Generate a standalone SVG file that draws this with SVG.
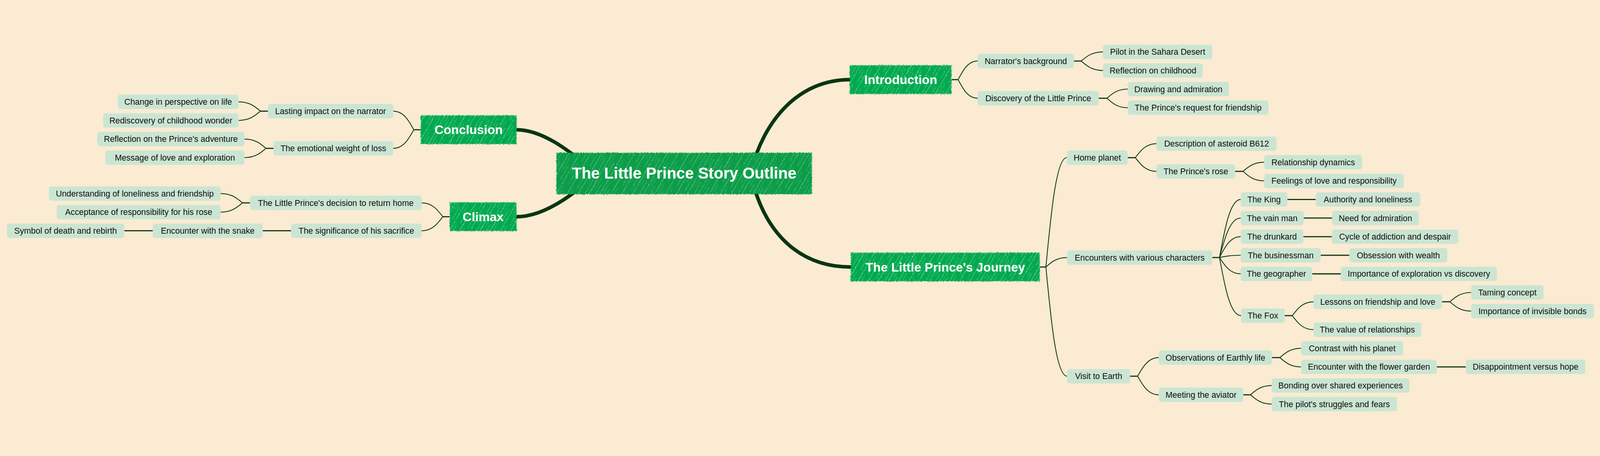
<svg xmlns="http://www.w3.org/2000/svg" width="4903" height="1167" viewBox="0 0 4903 1167" style="width:100%;height:100%;background:#faebd2">
<style>
.leaf rect{fill:#cbe5d3;}
.leaf text{font-family:"Liberation Sans",Arial,sans-serif;font-size:25.6px;fill:#111;text-anchor:middle;}
.main text{font-family:"Liberation Sans",Arial,sans-serif;font-weight:bold;font-size:38.4px;fill:#fff;text-anchor:middle;}
.root text{font-family:"Liberation Sans",Arial,sans-serif;font-weight:bold;font-size:48px;fill:#fff;text-anchor:middle;}
.main rect{fill:url(#hatchMain);filter:url(#rough);}
.root rect{fill:url(#hatchRoot);filter:url(#rough);}
#links path{fill:none;stroke:#173a18;stroke-width:2.6;}
#links path.stub{stroke-width:3.6;}
#links path.thick{stroke:#0b3512;stroke-width:11;stroke-linecap:round;}
</style>
<defs>
<pattern id="hatchMain" patternUnits="userSpaceOnUse" width="27" height="70" patternTransform="rotate(30)">
<rect width="27" height="70" fill="#04a94f"/>
<line x1="4" y1="0" x2="4" y2="70" stroke="#a8e8bf" stroke-width="1.3" opacity="0.75"/>
<line x1="13" y1="5" x2="13" y2="40" stroke="#62d08f" stroke-width="1.6" opacity="0.6"/>
<line x1="21" y1="25" x2="21" y2="68" stroke="#d2f3de" stroke-width="1" opacity="0.6"/>
</pattern>
<pattern id="hatchRoot" patternUnits="userSpaceOnUse" width="29" height="80" patternTransform="rotate(30)">
<rect width="29" height="80" fill="#089d4a"/>
<line x1="5" y1="0" x2="5" y2="80" stroke="#9fe0b6" stroke-width="1.3" opacity="0.7"/>
<line x1="14" y1="8" x2="14" y2="50" stroke="#4fc27d" stroke-width="1.6" opacity="0.6"/>
<line x1="23" y1="30" x2="23" y2="78" stroke="#d6f4e0" stroke-width="1" opacity="0.55"/>
</pattern>
<filter id="rough" x="-3%" y="-10%" width="106%" height="120%">
<feTurbulence type="fractalNoise" baseFrequency="0.35" numOctaves="2" seed="4" result="n"/>
<feDisplacementMap in="SourceGraphic" in2="n" scale="8" xChannelSelector="R" yChannelSelector="G"/>
</filter>
</defs>
<rect width="4903" height="1167" fill="#faebd2"/>
<g id="links">
<path class="thick" d="M2604,129 C2450,129 2340,250 2300,416"/>
<path class="thick" d="M2607,703 C2450,703 2340,600 2300,416"/>
<path class="thick" d="M1583,282.5 C1680,282.5 1780,380 1830,416"/>
<path class="thick" d="M1583,549 C1680,549 1780,460 1830,416"/>
<path class="stub" d="M2916,129 L2936,129"/>
<path d="M2936,129 C2951,100.5 2966,72 2996,72"/>
<path d="M2936,129 C2951,157.5 2966,186 2996,186"/>
<path class="stub" d="M3291,72 L3313,72"/>
<path d="M3313,72 C3329.75,58 3346.5,44 3380,44"/>
<path d="M3313,72 C3329.75,86.5 3346.5,101 3380,101"/>
<path class="stub" d="M3367,186 L3392,186"/>
<path d="M3392,186 C3408,172 3424,158 3456,158"/>
<path d="M3392,186 C3408,200.5 3424,215 3456,215"/>
<path class="stub" d="M3186,703 L3205,703"/>
<path d="M3205,703 C3221,535.5 3237,368 3269,368"/>
<path d="M3205,703 C3221,688.5 3237,674 3270,674"/>
<path d="M3205,703 C3221,870 3237,1037.5 3270,1037.5"/>
<path class="stub" d="M3456,368 L3479,368"/>
<path d="M3479,368 C3495.25,346.5 3511.5,325 3544,325"/>
<path d="M3479,368 C3495.25,389 3511.5,410 3544,410"/>
<path class="stub" d="M3785,410 L3809,410"/>
<path d="M3809,410 C3825.25,396 3841.5,382 3874,382"/>
<path d="M3809,410 C3825.25,424.5 3841.5,439 3874,439"/>
<path class="stub" d="M3715,674 L3737,674"/>
<path d="M3737,674 C3753.25,585 3769.5,496 3802,496"/>
<path d="M3737,674 C3753.25,613.5 3769.5,553 3802,553"/>
<path d="M3737,674 C3753.25,642 3769.5,610 3802,610"/>
<path d="M3737,674 C3753.25,670.5 3769.5,667 3802,667"/>
<path d="M3737,674 C3753.25,699 3769.5,724 3802,724"/>
<path d="M3737,674 C3753.25,763 3769.5,852 3803,852"/>
<path class="stub" d="M3945,496 L4032,496"/>
<path class="stub" d="M3995,553 L4082,553"/>
<path class="stub" d="M3994,610 L4081,610"/>
<path class="stub" d="M4047,667 L4135,667"/>
<path class="stub" d="M4021,724 L4109,724"/>
<path class="stub" d="M3937,852 L3960,852"/>
<path d="M3960,852 C3976.25,830.75 3992.5,809.5 4025,809.5"/>
<path d="M3960,852 C3976.25,873.5 3992.5,895 4025,895"/>
<path class="stub" d="M4419,809.5 L4443,809.5"/>
<path d="M4443,809.5 C4459.25,795.25 4475.5,781 4508,781"/>
<path d="M4443,809.5 C4459.25,823.75 4475.5,838 4508,838"/>
<path class="stub" d="M3463,1037.5 L3486,1037.5"/>
<path d="M3486,1037.5 C3502.25,1009 3518.5,980.5 3551,980.5"/>
<path d="M3486,1037.5 C3502.25,1066 3518.5,1094.5 3551,1094.5"/>
<path class="stub" d="M3898,980.5 L3922,980.5"/>
<path d="M3922,980.5 C3938.25,966.25 3954.5,952 3987,952"/>
<path d="M3922,980.5 C3938.25,994.75 3954.5,1009 3987,1009"/>
<path class="stub" d="M4403,1009 L4492,1009"/>
<path class="stub" d="M3810,1094.5 L3832,1094.5"/>
<path d="M3832,1094.5 C3848.25,1080.25 3864.5,1066 3897,1066"/>
<path d="M3832,1094.5 C3848.25,1108.75 3864.5,1123 3897,1123"/>
<path class="stub" d="M1289,282.5 L1268,282.5"/>
<path d="M1268,282.5 C1252.25,254 1236.5,225.5 1205,225.5"/>
<path d="M1268,282.5 C1252.25,311 1236.5,339.5 1205,339.5"/>
<path class="stub" d="M821,225.5 L798,225.5"/>
<path d="M798,225.5 C781.25,211.25 764.5,197 731,197"/>
<path d="M798,225.5 C781.25,239.75 764.5,254 731,254"/>
<path class="stub" d="M838,339.5 L815,339.5"/>
<path d="M815,339.5 C798.5,325.25 782,311 749,311"/>
<path d="M815,339.5 C798.5,353.75 782,368 749,368"/>
<path class="stub" d="M1378,549 L1357,549"/>
<path d="M1357,549 C1340.75,527.75 1324.5,506.5 1292,506.5"/>
<path d="M1357,549 C1340.75,570.5 1324.5,592 1292,592"/>
<path class="stub" d="M766,506.5 L743,506.5"/>
<path d="M743,506.5 C726.25,492.25 709.5,478 676,478"/>
<path d="M743,506.5 C726.25,520.75 709.5,535 676,535"/>
<path class="stub" d="M892,592 L805,592"/>
<path class="stub" d="M468,592 L381,592"/>
</g>
<g id="n-root" class="root"><rect x="1705" y="353" width="783" height="127"/><text x="2096.5" y="432">The Little Prince Story Outline</text></g>
<g id="n-intro" class="main"><rect x="2604" y="85" width="312" height="88"/><text x="2760" y="142.5">Introduction</text></g>
<g id="n-journey" class="main"><rect x="2607" y="659" width="579" height="88"/><text x="2896.5" y="716.5">The Little Prince's Journey</text></g>
<g id="n-conclusion" class="main"><rect x="1289" y="238.5" width="294" height="88"/><text x="1436" y="296">Conclusion</text></g>
<g id="n-climax" class="main"><rect x="1378" y="505" width="205" height="88"/><text x="1480.5" y="562.5">Climax</text></g>
<g id="n-narrator" class="leaf"><rect x="2996" y="50" width="295" height="44" rx="8"/><text x="3143.5" y="81">Narrator's background</text></g>
<g id="n-pilot" class="leaf"><rect x="3380" y="22" width="335" height="44" rx="8"/><text x="3547.5" y="53">Pilot in the Sahara Desert</text></g>
<g id="n-childhood" class="leaf"><rect x="3380" y="79" width="306" height="44" rx="8"/><text x="3533" y="110">Reflection on childhood</text></g>
<g id="n-discovery" class="leaf"><rect x="2996" y="164" width="371" height="44" rx="8"/><text x="3181.5" y="195">Discovery of the Little Prince</text></g>
<g id="n-drawing" class="leaf"><rect x="3456" y="136" width="310" height="44" rx="8"/><text x="3611" y="167">Drawing and admiration</text></g>
<g id="n-request" class="leaf"><rect x="3456" y="193" width="431" height="44" rx="8"/><text x="3671.5" y="224">The Prince's request for friendship</text></g>
<g id="n-home" class="leaf"><rect x="3269" y="346" width="187" height="44" rx="8"/><text x="3362.5" y="377">Home planet</text></g>
<g id="n-asteroid" class="leaf"><rect x="3544" y="303" width="368" height="44" rx="8"/><text x="3728" y="334">Description of asteroid B612</text></g>
<g id="n-rose" class="leaf"><rect x="3544" y="388" width="241" height="44" rx="8"/><text x="3664.5" y="419">The Prince's rose</text></g>
<g id="n-relationship" class="leaf"><rect x="3874" y="360" width="300" height="44" rx="8"/><text x="4024" y="391">Relationship dynamics</text></g>
<g id="n-feelings" class="leaf"><rect x="3874" y="417" width="428" height="44" rx="8"/><text x="4088" y="448">Feelings of love and responsibility</text></g>
<g id="n-encounters" class="leaf"><rect x="3270" y="652" width="445" height="44" rx="8"/><text x="3492.5" y="683">Encounters with various characters</text></g>
<g id="n-king" class="leaf"><rect x="3802" y="474" width="143" height="44" rx="8"/><text x="3873.5" y="505">The King</text></g>
<g id="n-authority" class="leaf"><rect x="4032" y="474" width="320" height="44" rx="8"/><text x="4192" y="505">Authority and loneliness</text></g>
<g id="n-vain" class="leaf"><rect x="3802" y="531" width="193" height="44" rx="8"/><text x="3898.5" y="562">The vain man</text></g>
<g id="n-admiration" class="leaf"><rect x="4082" y="531" width="266" height="44" rx="8"/><text x="4215" y="562">Need for admiration</text></g>
<g id="n-drunkard" class="leaf"><rect x="3802" y="588" width="192" height="44" rx="8"/><text x="3898" y="619">The drunkard</text></g>
<g id="n-cycle" class="leaf"><rect x="4081" y="588" width="388" height="44" rx="8"/><text x="4275" y="619">Cycle of addiction and despair</text></g>
<g id="n-business" class="leaf"><rect x="3802" y="645" width="245" height="44" rx="8"/><text x="3924.5" y="676">The businessman</text></g>
<g id="n-wealth" class="leaf"><rect x="4135" y="645" width="300" height="44" rx="8"/><text x="4285" y="676">Obsession with wealth</text></g>
<g id="n-geographer" class="leaf"><rect x="3802" y="702" width="219" height="44" rx="8"/><text x="3911.5" y="733">The geographer</text></g>
<g id="n-exploration" class="leaf"><rect x="4109" y="702" width="478" height="44" rx="8"/><text x="4348" y="733">Importance of exploration vs discovery</text></g>
<g id="n-fox" class="leaf"><rect x="3803" y="830" width="134" height="44" rx="8"/><text x="3870" y="861">The Fox</text></g>
<g id="n-lessons" class="leaf"><rect x="4025" y="787.5" width="394" height="44" rx="8"/><text x="4222" y="818.5">Lessons on friendship and love</text></g>
<g id="n-value" class="leaf"><rect x="4025" y="873" width="330" height="44" rx="8"/><text x="4190" y="904">The value of relationships</text></g>
<g id="n-taming" class="leaf"><rect x="4508" y="759" width="222" height="44" rx="8"/><text x="4619" y="790">Taming concept</text></g>
<g id="n-invisible" class="leaf"><rect x="4508" y="816" width="376" height="44" rx="8"/><text x="4696" y="847">Importance of invisible bonds</text></g>
<g id="n-visit" class="leaf"><rect x="3270" y="1015.5" width="193" height="44" rx="8"/><text x="3366.5" y="1046.5">Visit to Earth</text></g>
<g id="n-observations" class="leaf"><rect x="3551" y="958.5" width="347" height="44" rx="8"/><text x="3724.5" y="989.5">Observations of Earthly life</text></g>
<g id="n-aviator" class="leaf"><rect x="3551" y="1072.5" width="259" height="44" rx="8"/><text x="3680.5" y="1103.5">Meeting the aviator</text></g>
<g id="n-contrast" class="leaf"><rect x="3987" y="930" width="313" height="44" rx="8"/><text x="4143.5" y="961">Contrast with his planet</text></g>
<g id="n-garden" class="leaf"><rect x="3987" y="987" width="416" height="44" rx="8"/><text x="4195" y="1018">Encounter with the flower garden</text></g>
<g id="n-disappointment" class="leaf"><rect x="4492" y="987" width="366" height="44" rx="8"/><text x="4675" y="1018">Disappointment versus hope</text></g>
<g id="n-bonding" class="leaf"><rect x="3897" y="1044" width="422" height="44" rx="8"/><text x="4108" y="1075">Bonding over shared experiences</text></g>
<g id="n-fears" class="leaf"><rect x="3897" y="1101" width="384" height="44" rx="8"/><text x="4089" y="1132">The pilot's struggles and fears</text></g>
<g id="n-lasting" class="leaf"><rect x="821" y="203.5" width="384" height="44" rx="8"/><text x="1013" y="234.5">Lasting impact on the narrator</text></g>
<g id="n-emotional" class="leaf"><rect x="838" y="317.5" width="367" height="44" rx="8"/><text x="1021.5" y="348.5">The emotional weight of loss</text></g>
<g id="n-perspective" class="leaf"><rect x="361" y="175" width="370" height="44" rx="8"/><text x="546" y="206">Change in perspective on life</text></g>
<g id="n-wonder" class="leaf"><rect x="316" y="232" width="415" height="44" rx="8"/><text x="523.5" y="263">Rediscovery of childhood wonder</text></g>
<g id="n-adventure" class="leaf"><rect x="298" y="289" width="451" height="44" rx="8"/><text x="523.5" y="320">Reflection on the Prince's adventure</text></g>
<g id="n-message" class="leaf"><rect x="323" y="346" width="426" height="44" rx="8"/><text x="536" y="377">Message of love and exploration</text></g>
<g id="n-decision" class="leaf"><rect x="766" y="484.5" width="526" height="44" rx="8"/><text x="1029" y="515.5">The Little Prince's decision to return home</text></g>
<g id="n-sacrifice" class="leaf"><rect x="892" y="570" width="400" height="44" rx="8"/><text x="1092" y="601">The significance of his sacrifice</text></g>
<g id="n-loneliness" class="leaf"><rect x="150" y="456" width="526" height="44" rx="8"/><text x="413" y="487">Understanding of loneliness and friendship</text></g>
<g id="n-responsibility" class="leaf"><rect x="174" y="513" width="502" height="44" rx="8"/><text x="425" y="544">Acceptance of responsibility for his rose</text></g>
<g id="n-snake" class="leaf"><rect x="468" y="570" width="337" height="44" rx="8"/><text x="636.5" y="601">Encounter with the snake</text></g>
<g id="n-symbol" class="leaf"><rect x="21" y="570" width="360" height="44" rx="8"/><text x="201" y="601">Symbol of death and rebirth</text></g>
</svg>
